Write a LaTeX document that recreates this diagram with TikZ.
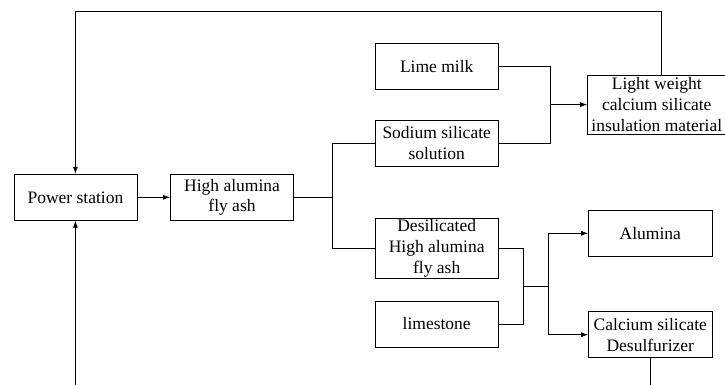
\documentclass[tikz,border=0pt]{standalone}
\usepackage{fontspec}
\setmainfont{Liberation Serif}
\usetikzlibrary{arrows.meta}
\begin{document}
\begin{tikzpicture}[x=1pt,y=-1pt,
 box/.style={draw, line width=0.8pt, inner sep=0pt, align=center, font=\rmfamily\fontsize{17.5}{20.8}\selectfont},
 link/.style={line width=0.8pt},
 arr/.style={link,-{Latex[length=7pt,width=5pt]}}]
\useasboundingbox (0,0) rectangle (725,385);
\node[box, minimum width=123, minimum height=46] (ps) at (75.4,197.3) {Power station};
\node[box, minimum width=123, minimum height=46] (ha) at (232,197.3) {High alumina\\fly ash};
\node[box, minimum width=123.4, minimum height=46.3] (lm) at (436.7,66.2) {Lime milk};
\node[box, minimum width=123.4, minimum height=46] (ss) at (436.7,143.3) {Sodium silicate\\solution};
\node[box, minimum width=123.4, minimum height=60] (ds) at (436.7,248.3) {Desilicated\\High alumina\\fly ash};
\node[box, minimum width=123.4, minimum height=46] (ls) at (436.7,324) {limestone};
\node[box, minimum width=138.4, minimum height=58.7] (lw) at (656.8,104.6) {Light weight\\calcium silicate\\insulation material};
\node[box, minimum width=123.5, minimum height=46] (al) at (650.3,233.3) {Alumina};
\node[box, minimum width=123.5, minimum height=46] (cs) at (650.3,334.7) {Calcium silicate\\Desulfurizer};
\draw[arr] (ps) -- (ha);
\coordinate (j1) at (332.4,197.3);
\draw[link] (ha.east) -- (j1);
\draw[link] (ss.west) -| (j1) |- (ds.west);
\coordinate (j2) at (550.6,104.6);
\draw[link] (lm.east) -| (j2) |- (ss.east);
\draw[arr] (j2) -- (lw.west);
\coordinate (j3) at (522.9,286);
\coordinate (j4) at (548.8,286);
\draw[link] (ds.east) -| (j3) |- (ls.east);
\draw[link] (j3) -- (j4);
\draw[arr] (j4) |- (al.west);
\draw[arr] (j4) |- (cs.west);
\coordinate (top) at (661,11);
\draw[arr] (lw.north -| top) -- (top) -| (ps.north);
\coordinate (b1) at (650.3,388);
\draw[link] (cs.south) -- (cs.south |- b1);
\draw[arr] (ps.south |- b1) -- (ps.south);
\end{tikzpicture}
\end{document}
